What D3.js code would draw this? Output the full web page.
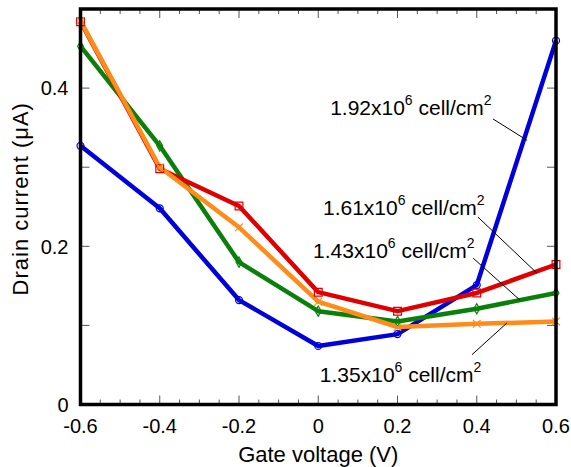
<!DOCTYPE html>
<html>
<head>
<meta charset="utf-8">
<script src="https://cdn.jsdelivr.net/npm/d3@7"></script>
<style>
  body { margin: 0; background: #fff; }
  svg { font-family: "Liberation Sans", Arial, sans-serif; }
</style>
</head>
<body>
<svg id="chart" width="571" height="467"></svg>
<script>
// gate voltage (V)
const gateVoltage = [-0.6, -0.4, -0.2, 0, 0.2, 0.4, 0.6];

// drain current (uA) per cell density
const current192 = [0.327, 0.248, 0.132, 0.074, 0.089, 0.151, 0.460];
const current161 = [0.484, 0.298, 0.251, 0.142, 0.118, 0.141, 0.177];
const current143 = [0.453, 0.327, 0.180, 0.118, 0.105, 0.121, 0.141];
const current135 = [0.485, 0.300, 0.224, 0.130, 0.098, 0.102, 0.105];

const xTicks = [-0.6, -0.4, -0.2, 0, 0.2, 0.4, 0.6];
const yTicks = [0, 0.2, 0.4];

const margin = { top: 9, right: 15, bottom: 62.5, left: 80.5 };
const width = 571 - margin.left - margin.right;
const height = 467 - margin.top - margin.bottom;

const svg = d3.select('#chart');
const g = svg.append('g').attr('transform', `translate(${margin.left},${margin.top})`);

const x = d3.scaleLinear().domain([-0.6, 0.6]).range([0, width]);
const y = d3.scaleLinear().domain([0, 0.5]).range([height, 0]);

// ticks, all inward
const minorX = d3.range(-0.6, 0.6001, 0.05);
const minorY = d3.range(0, 0.5001, 0.1);

function tickLen(v, step) {
    return Math.abs(Math.round(v / step) * step - v) < 1e-6 ? 9 : 5;
}

const ticks = g.append('g').attr('stroke', '#555').attr('stroke-width', 1);
minorX.forEach(v => {
    const l = tickLen(v, 0.2);
    ticks.append('line').attr('x1', x(v)).attr('x2', x(v)).attr('y1', height).attr('y2', height - l);
    ticks.append('line').attr('x1', x(v)).attr('x2', x(v)).attr('y1', 0).attr('y2', l);
});
minorY.forEach(v => {
    const l = 9;
    ticks.append('line').attr('x1', 0).attr('x2', l).attr('y1', y(v)).attr('y2', y(v));
    ticks.append('line').attr('x1', width).attr('x2', width - l).attr('y1', y(v)).attr('y2', y(v));
});

const fmt = d => d === 0 ? '0' : d.toFixed(1);

// tick labels
g.append('g').selectAll('text').data(xTicks).join('text')
    .attr('x', d => x(d)).attr('y', height + 28)
    .attr('text-anchor', 'middle').attr('font-size', 20)
    .text(fmt);

g.append('g').selectAll('text').data(yTicks).join('text')
    .attr('x', -12).attr('y', d => y(d)).attr('dy', '0.36em')
    .attr('text-anchor', 'end').attr('font-size', 20)
    .text(fmt);

// axis titles
g.append('text')
    .attr('x', width / 2).attr('y', height + 57)
    .attr('text-anchor', 'middle').attr('font-size', 22)
    .text('Gate voltage (V)');

g.append('text')
    .attr('transform', `translate(-53,${height / 2 - 8}) rotate(-90)`)
    .attr('text-anchor', 'middle').attr('font-size', 22)
    .attr('letter-spacing', 1)
    .text('Drain current (\u03bcA)');

// series
const series = [
    { values: current192, color: '#0000dd', marker: 'circle' },
    { values: current143, color: '#0a800a', marker: 'diamond' },
    { values: current161, color: '#e00000', marker: 'square' },
    { values: current135, color: '#ff8c1a', marker: 'cross' }
];

const line = d3.line().x((d, i) => x(gateVoltage[i])).y(d => y(d));

series.forEach(s => {
    g.append('path')
        .datum(s.values)
        .attr('fill', 'none')
        .attr('stroke', s.color)
        .attr('stroke-width', 4.5)
        .attr('stroke-linejoin', 'round')
        .attr('d', line);
});

const symbols = {
    circle: d3.symbol().type(d3.symbolCircle).size(38),
    diamond: d3.symbol().type(d3.symbolDiamond).size(30),
    square: d3.symbol().type(d3.symbolSquare).size(60),
    cross: d3.symbol().type(d3.symbolX).size(40)
};

series.forEach(s => {
    g.append('g').selectAll('path').data(s.values).join('path')
        .attr('transform', (d, i) => `translate(${x(gateVoltage[i])},${y(d)})`)
        .attr('d', symbols[s.marker])
        .attr('fill', 'none')
        .attr('stroke', s.color)
        .attr('stroke-width', 1.2);
});

// frame
g.append('rect')
    .attr('x', 0).attr('y', 0).attr('width', width).attr('height', height)
    .attr('fill', 'none').attr('stroke', '#000').attr('stroke-width', 3.5);

// annotations: label start, baseline, leader line (data units)
const labelText = ['1.92', '1.61', '1.43', '1.35'];
const labelPos = [[0.030, 0.366], [0.012, 0.240], [-0.013, 0.185], [0.004, 0.028]];
const leaderFrom = [[0.441, 0.361], [0.403, 0.237], [0.391, 0.185], [0.388, 0.063]];
const leaderTo = [[0.527, 0.334], [0.552, 0.166], [0.509, 0.132], [0.476, 0.103]];

labelText.forEach((t, i) => {
    const txt = g.append('text')
        .attr('x', x(labelPos[i][0])).attr('y', y(labelPos[i][1]))
        .attr('font-size', 21);
    txt.append('tspan').text(t + 'x10');
    txt.append('tspan').attr('dy', -10).attr('font-size', 14).text('6');
    txt.append('tspan').attr('dy', 10).text(' cell/cm');
    txt.append('tspan').attr('dy', -10).attr('font-size', 14).text('2');

    g.append('line')
        .attr('x1', x(leaderFrom[i][0])).attr('y1', y(leaderFrom[i][1]))
        .attr('x2', x(leaderTo[i][0])).attr('y2', y(leaderTo[i][1]))
        .attr('stroke', '#000').attr('stroke-width', 1);
});
</script>
</body>
</html>
